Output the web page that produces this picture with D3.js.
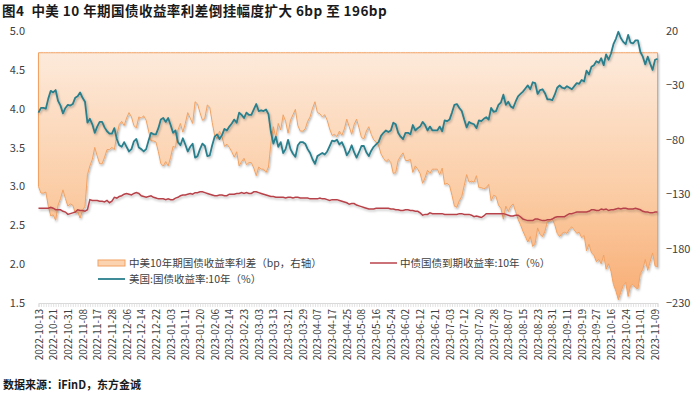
<!DOCTYPE html>
<html><head><meta charset="utf-8">
<script src="https://cdn.jsdelivr.net/npm/d3@7"></script>
<style>
body{margin:0;background:#fff}
svg{display:block}
text{font-family:"Noto Sans CJK SC","Microsoft YaHei",sans-serif}
</style>
</head><body>
<svg id="c" width="700" height="396"></svg>
<script>
const titleText = "图4\u00a0\u00a0中美 10 年期国债收益率利差倒挂幅度扩大 6bp 至 196bp";
const sourceText = "数据来源：iFinD，东方金诚";
const seriesNames = ["中美10年期国债收益率利差（bp，右轴）","中债国债到期收益率:10年（%）","美国:国债收益率:10年（%）"];
const tickLabels = ["2022-10-13","2022-10-21","2022-10-31","2022-11-08","2022-11-17","2022-11-28","2022-12-06","2022-12-14","2022-12-22","2023-01-03","2023-01-11","2023-01-20","2023-02-06","2023-02-14","2023-02-23","2023-03-03","2023-03-13","2023-03-21","2023-03-29","2023-04-07","2023-04-17","2023-04-25","2023-05-08","2023-05-16","2023-05-24","2023-06-02","2023-06-12","2023-06-21","2023-07-03","2023-07-12","2023-07-20","2023-07-28","2023-08-07","2023-08-15","2023-08-23","2023-08-31","2023-09-11","2023-09-19","2023-09-27","2023-10-16","2023-10-24","2023-11-01","2023-11-09"];
const tickEvery = 6;
const leftTicks = [1.5,2.0,2.5,3.0,3.5,4.0,4.5,5.0];
const rightTicks = [-230,-180,-130,-80,-30,20];

// US 10Y yield (%), one value per trading day
const usYield = [
3.95,4.01,4.01,4.00,4.13,4.23,4.21,4.24,4.10,4.04,
3.94,4.01,4.05,4.04,4.06,4.14,4.16,4.21,4.14,4.09,
3.82,3.87,3.80,3.69,3.77,3.83,3.83,3.76,3.71,3.68,
3.68,3.75,3.61,3.53,3.51,3.57,3.51,3.45,3.48,3.58,
3.61,3.50,3.48,3.45,3.48,3.59,3.69,3.67,3.67,3.75,
3.86,3.88,3.83,3.88,3.79,3.69,3.72,3.57,3.53,3.62,
3.54,3.45,3.51,3.55,3.37,3.39,3.48,3.55,3.52,3.39,
3.40,3.53,3.64,3.67,3.61,3.66,3.74,3.72,3.77,3.81,
3.86,3.82,3.95,3.92,3.88,3.95,3.92,3.92,3.99,4.06,
3.97,3.98,3.97,3.99,3.93,3.70,3.55,3.64,3.51,3.57,
3.43,3.48,3.60,3.48,3.42,3.38,3.53,3.57,3.57,3.55,
3.48,3.43,3.35,3.29,3.39,3.41,3.43,3.41,3.45,3.52,
3.59,3.58,3.60,3.54,3.57,3.50,3.40,3.45,3.53,3.44,
3.37,3.44,3.52,3.52,3.44,3.39,3.46,3.51,3.54,3.57,
3.65,3.69,3.72,3.70,3.72,3.82,3.80,3.69,3.64,3.61,
3.69,3.69,3.67,3.79,3.72,3.75,3.77,3.83,3.79,3.72,
3.77,3.72,3.72,3.72,3.77,3.71,3.85,3.84,3.86,3.95,
4.05,4.06,4.01,3.97,3.86,3.76,3.83,3.81,3.80,3.75,
3.85,3.84,3.87,3.89,3.86,4.01,3.96,3.97,4.05,4.08,
4.18,4.05,4.09,4.03,4.01,4.09,4.16,4.19,4.22,4.26,
4.30,4.25,4.34,4.33,4.19,4.24,4.25,4.20,4.12,4.12,
4.11,4.18,4.27,4.30,4.27,4.26,4.29,4.27,4.25,4.29,
4.33,4.32,4.37,4.35,4.49,4.44,4.54,4.56,4.61,4.59,
4.65,4.56,4.70,4.63,4.71,4.83,4.90,4.99,4.91,4.86,
4.83,4.95,4.85,4.84,4.88,4.88,4.73,4.67,4.57,4.67,
4.58,4.50,4.63,4.64];

// China 10Y government bond yield (%), one value per trading day
const cnYield = [
2.72,2.72,2.72,2.72,2.72,2.73,2.72,2.70,2.70,2.70,
2.68,2.67,2.64,2.65,2.66,2.67,2.70,2.69,2.69,2.68,
2.70,2.83,2.82,2.82,2.82,2.81,2.81,2.80,2.82,2.79,
2.81,2.86,2.85,2.87,2.88,2.90,2.91,2.90,2.89,2.91,
2.92,2.91,2.88,2.87,2.86,2.87,2.88,2.86,2.85,2.84,
2.84,2.84,2.83,2.84,2.83,2.83,2.85,2.86,2.88,2.89,
2.89,2.90,2.91,2.90,2.92,2.92,2.93,2.93,2.92,2.91,
2.90,2.89,2.88,2.88,2.89,2.89,2.88,2.88,2.90,2.90,
2.90,2.91,2.91,2.92,2.91,2.92,2.91,2.91,2.93,2.93,
2.92,2.91,2.90,2.89,2.88,2.87,2.87,2.86,2.86,2.86,
2.86,2.85,2.86,2.86,2.85,2.86,2.86,2.85,2.85,2.85,
2.85,2.84,2.84,2.84,2.84,2.85,2.84,2.84,2.83,2.82,
2.83,2.83,2.83,2.82,2.81,2.80,2.79,2.77,2.78,2.78,
2.76,2.75,2.74,2.73,2.72,2.71,2.71,2.71,2.72,2.72,
2.72,2.72,2.72,2.72,2.71,2.71,2.70,2.70,2.69,2.69,
2.70,2.70,2.69,2.69,2.68,2.68,2.66,2.63,2.64,2.64,
2.66,2.65,2.65,2.65,2.65,2.65,2.64,2.64,2.64,2.64,
2.64,2.64,2.65,2.65,2.64,2.64,2.64,2.63,2.61,2.62,
2.61,2.60,2.62,2.65,2.65,2.65,2.65,2.65,2.65,2.65,
2.65,2.64,2.63,2.62,2.62,2.63,2.63,2.61,2.58,2.57,
2.56,2.56,2.56,2.58,2.58,2.57,2.56,2.56,2.57,2.57,
2.58,2.60,2.61,2.61,2.61,2.61,2.63,2.65,2.65,2.66,
2.67,2.67,2.67,2.67,2.67,2.68,2.70,2.70,2.69,2.69,
2.71,2.70,2.71,2.69,2.70,2.70,2.71,2.72,2.71,2.72,
2.72,2.71,2.71,2.71,2.72,2.71,2.70,2.68,2.67,2.67,
2.66,2.66,2.67,2.67];

// spread (bp) = China 10Y - US 10Y
const spreadBp = cnYield.map((v,i)=>Math.round((v - usYield[i])*100));

const svg = d3.select("#c");
const n = usYield.length;
const x = d3.scaleLinear().domain([0, n-1]).range([38.5, 657.5]);
const yL = d3.scaleLinear().domain([1.5, 5.0]).range([303, 31]);
const yR = d3.scaleLinear().domain([-230, 20]).range([303, 31]);

const defs = svg.append("defs");
const grad = defs.append("linearGradient").attr("id","ag")
  .attr("gradientUnits","userSpaceOnUse")
  .attr("x1",0).attr("x2",0).attr("y1",yR(0)).attr("y2",yR(-230));
grad.append("stop").attr("offset","0%").attr("stop-color","#fdeadb");
grad.append("stop").attr("offset","55%").attr("stop-color","#fbcda6");
grad.append("stop").attr("offset","100%").attr("stop-color","#f8ad74");
const sh = defs.append("filter").attr("id","sh").attr("x","-5%").attr("y","-5%").attr("width","110%").attr("height","115%");
sh.append("feDropShadow").attr("dx",1).attr("dy",1.5).attr("stdDeviation",1.2)
  .attr("flood-color","#000").attr("flood-opacity",0.28);

// area (spread, right axis)
const area = d3.area().x((d,i)=>x(i)).y0(yR(0)).y1(d=>yR(d));
svg.append("path").datum(spreadBp).attr("d",area)
  .attr("fill","url(#ag)").attr("stroke","#f2a263").attr("stroke-width",1)
  .attr("filter","url(#sh)");

// x axis minor ticks
const xMinor = d3.axisBottom(x).tickValues(d3.range(n)).tickSize(4).tickFormat("");
const gmx = svg.append("g").attr("transform","translate(0,303)").call(xMinor);
gmx.select(".domain").attr("stroke","#d9d9d9");
gmx.selectAll(".tick line").attr("stroke","#dcdcdc").attr("stroke-width",0.8);

// x axis labels
const xAxis = d3.axisBottom(x)
  .tickValues(tickLabels.map((d,i)=>i*tickEvery))
  .tickFormat(v=>tickLabels[v/tickEvery]).tickSize(0);
const gx = svg.append("g").attr("transform","translate(0,303)").call(xAxis);
gx.select(".domain").remove();
gx.selectAll("text")
  .attr("transform","rotate(-90)")
  .attr("text-anchor","end")
  .attr("x",-6).attr("y",0).attr("dy","0.35em")
  .attr("font-size",10).attr("fill","#404040")
  .style("font-family","'Noto Sans CJK SC',sans-serif");

// left axis
const gl = svg.append("g").attr("transform","translate(28,0)")
  .call(d3.axisLeft(yL).tickValues(leftTicks).tickFormat(d3.format(".1f")).tickSize(0).tickPadding(3));
gl.select(".domain").remove();
gl.selectAll("text").attr("font-size",11).attr("fill","#404040")
  .style("font-family","'Noto Sans CJK SC',sans-serif");

// right axis
const gr = svg.append("g").attr("transform","translate(663,0)")
  .call(d3.axisRight(yR).tickValues(rightTicks).tickSize(0).tickPadding(3));
gr.select(".domain").remove();
gr.selectAll("text").attr("font-size",11).attr("fill","#404040")
  .style("font-family","'Noto Sans CJK SC',sans-serif");

// lines
const lineL = d3.line().x((d,i)=>x(i)).y(d=>yL(d));
svg.append("path").datum(cnYield).attr("d",lineL)
  .attr("fill","none").attr("stroke","#b8434a").attr("stroke-width",1.5)
  .attr("filter","url(#sh)");
svg.append("path").datum(usYield).attr("d",lineL)
  .attr("fill","none").attr("stroke","#2a7f8d").attr("stroke-width",1.8)
  .attr("stroke-linejoin","round").attr("filter","url(#sh)");

// legend
const lg = svg.append("g").attr("font-size",10.5).attr("fill","#404040");
lg.append("rect").attr("x",98).attr("y",260).attr("width",27).attr("height",6)
  .attr("fill","#fcd3b0").attr("stroke","#f2a263").attr("stroke-width",1);
lg.append("text").attr("x",129).attr("y",263).attr("dy","0.35em").text(seriesNames[0]);
lg.append("line").attr("x1",370).attr("x2",397).attr("y1",263).attr("y2",263)
  .attr("stroke","#b8434a").attr("stroke-width",1.5);
lg.append("text").attr("x",400).attr("y",263).attr("dy","0.35em").text(seriesNames[1]);
lg.append("line").attr("x1",98).attr("x2",125).attr("y1",279).attr("y2",279)
  .attr("stroke","#2a7f8d").attr("stroke-width",1.8);
lg.append("text").attr("x",129).attr("y",279).attr("dy","0.35em").text(seriesNames[2]);

// title & source
svg.append("text").attr("x",2).attr("y",15.5).attr("font-size",13.5).attr("font-weight","bold")
  .attr("letter-spacing",0.45).attr("fill","#1a1a1a").text(titleText);
svg.append("text").attr("x",3).attr("y",389).attr("font-size",11).attr("font-weight","bold")
  .attr("fill","#1a1a1a").text(sourceText);
</script>
</body></html>
